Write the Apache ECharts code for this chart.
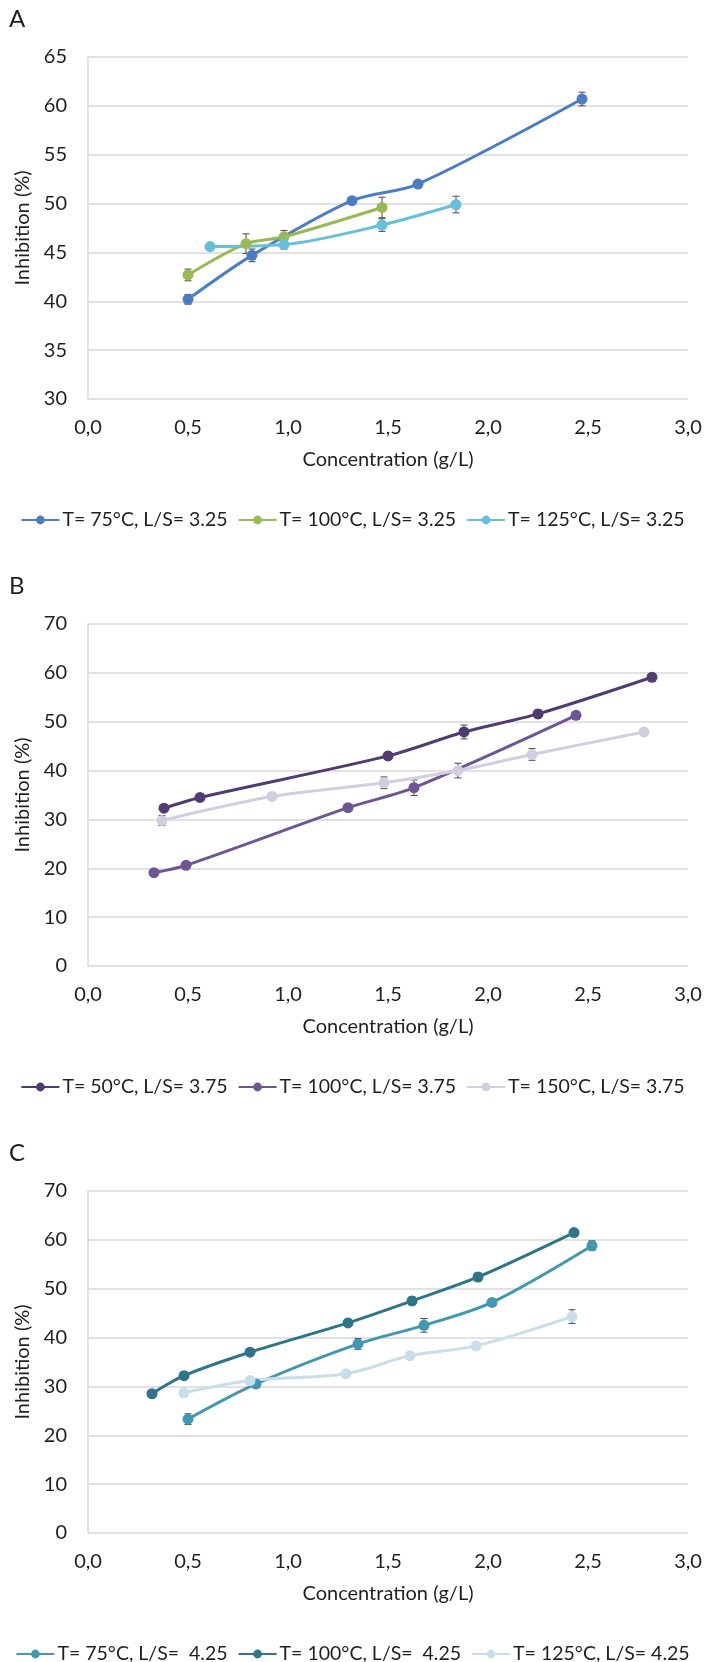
<!DOCTYPE html>
<html>
<head>
<meta charset="utf-8">
<script src="https://cdn.jsdelivr.net/npm/echarts@6/dist/echarts.min.js"></script>
<style>
html,body{margin:0;padding:0;background:#fff;}
#chart{width:705px;height:1662px;}
</style>
</head>
<body>
<div id="chart"></div>
<script>
// ---- Panel A data (L/S = 3.25) ----
const namesA = ['T= 75°C, L/S= 3.25', 'T= 100°C, L/S= 3.25', 'T= 125°C, L/S= 3.25'];
const xA75  = [0.50, 0.82, 1.32, 1.65, 2.47];
const yA75  = [40.2, 44.7, 50.3, 52.0, 60.7];
const eA75  = [0.5, 0.65, 0.2, 0.2, 0.7];
const xA100 = [0.50, 0.79, 0.98, 1.47];
const yA100 = [42.7, 45.9, 46.6, 49.6];
const eA100 = [0.6, 1.0, 0.65, 1.05];
const xA125 = [0.61, 0.98, 1.47, 1.84];
const yA125 = [45.6, 45.8, 47.8, 49.9];
const eA125 = [0.1, 0.45, 0.65, 0.85];

// ---- Panel B data (L/S = 3.75) ----
const namesB = ['T= 50°C, L/S= 3.75', 'T= 100°C, L/S= 3.75', 'T= 150°C, L/S= 3.75'];
const xB50  = [0.38, 0.56, 1.50, 1.88, 2.25, 2.82];
const yB50  = [32.3, 34.5, 43.0, 47.9, 51.6, 59.1];
const eB50  = [0.5, 0.5, 0.7, 1.4, 0.8, 0.5];
const xB100 = [0.33, 0.49, 1.30, 1.63, 2.44];
const yB100 = [19.1, 20.6, 32.4, 36.5, 51.3];
const eB100 = [0.4, 0.6, 0.5, 1.6, 0.8];
const xB150 = [0.37, 0.92, 1.48, 1.85, 2.22, 2.78];
const yB150 = [29.8, 34.7, 37.5, 40.0, 43.3, 47.9];
const eB150 = [1.0, 0.7, 1.2, 1.5, 1.2, 0.7];

// ---- Panel C data (L/S = 4.25) ----
const namesC = ['T= 75°C, L/S=  4.25', 'T= 100°C, L/S=  4.25', 'T= 125°C, L/S= 4.25'];
const xC75  = [0.50, 0.84, 1.35, 1.68, 2.02, 2.52];
const yC75  = [23.3, 30.5, 38.7, 42.5, 47.2, 58.8];
const eC75  = [1.1, 0.8, 1.1, 1.4, 0.5, 1.0];
const xC100 = [0.32, 0.48, 0.81, 1.30, 1.62, 1.95, 2.43];
const yC100 = [28.5, 32.2, 37.0, 43.0, 47.5, 52.4, 61.5];
const eC100 = [0.3, 0.5, 0.5, 0.5, 0.8, 0.8, 0.5];
const xC125 = [0.48, 0.81, 1.29, 1.61, 1.94, 2.42];
const yC125 = [28.7, 31.2, 32.6, 36.3, 38.3, 44.3];
const eC125 = [0.3, 0.3, 0.3, 0.3, 0.6, 1.4];

// ---- Axis settings ----
const xMin = 0, xMax = 3, xStep = 0.5;
const yRangeA = [30, 65, 5];
const yRangeB = [0, 70, 10];
const yRangeC = [0, 70, 10];
const panelLetters = ['A', 'B', 'C'];
const xTitle = 'Concentration (g/L)';
const yTitle = 'Inhibition (%)';

const FONT = 'Lato, "Open Sans", sans-serif';
const TXT = '#1f1f1f';
const GRID_COL = '#d9d9d9';

const colorsA = ['#4a7dc2', '#98ba55', '#66c0d7'];
const colorsB = ['#503c70', '#6e5594', '#d2cde0'];
const colorsC = ['#4198b0', '#2f7588', '#c8dfe9'];

const tops = [57, 624, 1191];
const gridH = 342;

const chart = echarts.init(document.getElementById('chart'), null, {renderer: 'canvas'});

function zip(xs, ys) { return xs.map((x, i) => [x, ys[i]]); }
function zip3(xs, ys, es) { return xs.map((x, i) => [x, ys[i], es[i]]); }

function renderErr(params, api) {
  const x = api.value(0), y = api.value(1), e = api.value(2);
  const hi = api.coord([x, y + e]);
  const lo = api.coord([x, y - e]);
  const w = 3.5;
  const st = {stroke: '#4a4a4a', lineWidth: 1};
  return {
    type: 'group',
    children: [
      {type: 'line', shape: {x1: hi[0], y1: hi[1], x2: lo[0], y2: lo[1]}, style: st},
      {type: 'line', shape: {x1: hi[0] - w, y1: hi[1], x2: hi[0] + w, y2: hi[1]}, style: st},
      {type: 'line', shape: {x1: lo[0] - w, y1: lo[1], x2: lo[0] + w, y2: lo[1]}, style: st}
    ]
  };
}

const panels = [
  {names: namesA, colors: colorsA, yr: yRangeA,
   sets: [[xA75, yA75, eA75], [xA100, yA100, eA100], [xA125, yA125, eA125]]},
  {names: namesB, colors: colorsB, yr: yRangeB,
   sets: [[xB50, yB50, eB50], [xB100, yB100, eB100], [xB150, yB150, eB150]]},
  {names: namesC, colors: colorsC, yr: yRangeC,
   sets: [[xC75, yC75, eC75], [xC100, yC100, eC100], [xC125, yC125, eC125]]}
];

const grid = [], xAxis = [], yAxis = [], legend = [], series = [], graphic = [];

panels.forEach((p, i) => {
  grid.push({left: 88, top: tops[i], width: 600, height: gridH});
  xAxis.push({
    type: 'value', gridIndex: i, min: xMin, max: xMax, interval: xStep,
    axisLine: {show: false}, axisTick: {show: false}, splitLine: {show: false},
    axisLabel: {margin: 19, fontSize: 20, fontFamily: FONT, color: TXT,
      formatter: v => v.toFixed(1).replace('.', ',')},
    name: xTitle, nameLocation: 'middle', nameGap: 51,
    nameTextStyle: {fontSize: 20, fontFamily: FONT, color: TXT}
  });
  yAxis.push({
    type: 'value', gridIndex: i, min: p.yr[0], max: p.yr[1], interval: p.yr[2],
    axisLine: {show: true, lineStyle: {color: GRID_COL, width: 1.5}},
    axisTick: {show: false},
    splitLine: {show: true, lineStyle: {color: GRID_COL, width: 1.5}},
    axisLabel: {margin: 21, fontSize: 20, fontFamily: FONT, color: TXT},
    name: yTitle, nameLocation: 'middle', nameGap: 43, nameRotate: 90,
    nameTextStyle: {fontSize: 20, fontFamily: FONT, color: TXT}
  });
  legend.push({
    data: p.names, left: 'center', top: tops[i] + gridH + 106,
    itemWidth: 38, itemHeight: 11, itemGap: 10,
    textStyle: {fontSize: 19.5, fontFamily: FONT, color: TXT, padding: [0, 0, 0, -2]},
    selectedMode: false
  });
  p.sets.forEach((s, k) => {
    series.push({
      type: 'custom', name: p.names[k] + ' err', xAxisIndex: i, yAxisIndex: i,
      renderItem: renderErr, data: zip3(s[0], s[1], s[2]), z: 1, silent: true
    });
  });
  p.sets.forEach((s, k) => {
    series.push({
      type: 'line', name: p.names[k], xAxisIndex: i, yAxisIndex: i,
      data: zip(s[0], s[1]), smooth: 0.3,
      symbol: 'circle', symbolSize: 11, showSymbol: true,
      itemStyle: {color: p.colors[k]},
      lineStyle: {color: p.colors[k], width: 3},
      z: 2, animation: false
    });
  });
  graphic.push({
    type: 'text', left: 9, top: tops[i] - 50,
    style: {text: panelLetters[i], fontSize: 24, fontFamily: FONT, fill: TXT}
  });
});

chart.setOption({
  animation: false,
  grid, xAxis, yAxis, legend, series, graphic
});
</script>
</body>
</html>
